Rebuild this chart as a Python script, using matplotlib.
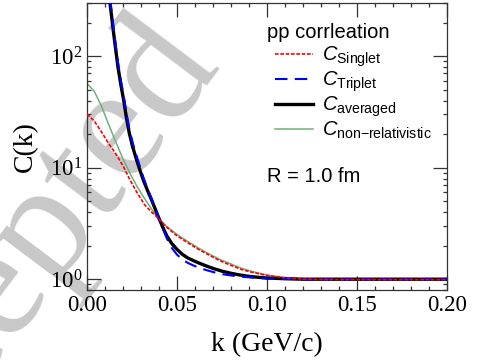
import matplotlib
matplotlib.use("Agg")
import matplotlib.pyplot as plt
from matplotlib.ticker import MultipleLocator, LogLocator, NullFormatter, FormatStrFormatter

# 폰트 설정 (눈금은 Times 계열, 범례는 Arial 계열)
plt.rcParams['font.family'] = 'Liberation Serif'
plt.rcParams['mathtext.fontset'] = 'custom'
plt.rcParams['mathtext.rm'] = 'Liberation Serif'
plt.rcParams['mathtext.it'] = 'Liberation Sans:italic'
plt.rcParams['mathtext.sf'] = 'Liberation Sans'
plt.rcParams['mathtext.bf'] = 'Liberation Serif:bold'

# ---- data (k in GeV/c) ----
k = [0.000, 0.004, 0.008, 0.012, 0.016, 0.020, 0.024, 0.028, 0.032, 0.036,
     0.039, 0.044, 0.050, 0.056, 0.062, 0.068, 0.074, 0.080, 0.086, 0.092,
     0.100, 0.110, 0.120, 0.135, 0.150, 0.175, 0.200]
c_singlet = [30.2, 26.3, 21.0, 16.5, 13.3, 10.4, 7.7, 5.9, 4.65, 3.98,
             3.6, 2.95, 2.45, 2.12, 1.85, 1.64, 1.46, 1.33, 1.22, 1.15,
             1.08, 1.03, 1.00, 0.99, 0.99, 0.99, 0.99]
c_nonrel = [57.0, 48.5, 35.8, 24.5, 17.0, 12.0, 8.8, 6.7, 5.28, 4.23,
            3.62, 3.0, 2.52, 2.18, 1.90, 1.68, 1.50, 1.37, 1.25, 1.17,
            1.09, 1.03, 1.00, 0.985, 0.98, 0.98, 0.98]

k_sp = [0.010, 0.0126, 0.0148, 0.0172, 0.0188, 0.0204, 0.0219, 0.0235, 0.0254,
        0.0276, 0.0295, 0.0313, 0.0336, 0.0359, 0.0378, 0.0396, 0.042, 0.0443,
        0.047, 0.050, 0.053, 0.056, 0.059, 0.062, 0.066, 0.070, 0.075, 0.080,
        0.085, 0.090, 0.095, 0.100, 0.110, 0.120, 0.150, 0.200]
c_averaged = [700, 316, 160, 80, 55.6, 40, 28.2, 20.4, 15.3,
              11.7, 9.4, 7.74, 6.25, 5.13, 4.3, 3.63, 2.95, 2.45,
              2.1, 1.85, 1.67, 1.55, 1.47, 1.40, 1.32, 1.25, 1.18, 1.13,
              1.09, 1.06, 1.04, 1.025, 1.01, 1.0, 1.0, 1.0]
c_triplet = [780, 350, 177, 88, 61, 44, 31, 22.4, 16.7,
             12.7, 10.1, 8.2, 6.5, 5.25, 4.35, 3.62, 2.88, 2.33,
             1.92, 1.66, 1.50, 1.40, 1.33, 1.27, 1.21, 1.16, 1.11, 1.08,
             1.055, 1.04, 1.025, 1.015, 1.005, 1.0, 1.0, 1.0]

W, H = 481, 363
fig = plt.figure(figsize=(W / 100, H / 100), dpi=100)

# 배경 워터마크
fig.text(221 / W, 1 - 65 / H, 'Accepted', fontsize=117, color='#c8c8c8',
         rotation=53, rotation_mode='anchor', ha='right', va='baseline',
         family='Liberation Serif', zorder=-10)

ax = fig.add_axes([87 / W, 1 - 290 / H, 360 / W, 287 / H])
ax.set_facecolor('none')

l_avg, = ax.plot(k_sp, c_averaged, color='black', lw=2.4, zorder=3)
l_tri, = ax.plot(k_sp, c_triplet, color='#0000ff', lw=1.5, ls=(0, (6, 3.5)), zorder=4)
l_nr, = ax.plot(k, c_nonrel, color='#6fb07f', lw=1.1, zorder=2)
l_sin, = ax.plot(k, c_singlet, color='#ff0000', lw=1.2, ls=(0, (2.2, 1.0)), zorder=5)

ax.set_yscale('log')
ax.set_xlim(0, 0.2)
ax.set_ylim(0.8, 300)

ax.xaxis.set_major_locator(MultipleLocator(0.05))
ax.xaxis.set_minor_locator(MultipleLocator(0.01))
ax.xaxis.set_major_formatter(FormatStrFormatter('%.2f'))
ax.yaxis.set_major_locator(LogLocator(base=10, numticks=10))
ax.yaxis.set_minor_locator(LogLocator(base=10, subs=range(2, 10), numticks=20))
ax.yaxis.set_minor_formatter(NullFormatter())

ax.tick_params(which='both', direction='in', top=True, right=True,
               color='#333333', width=0.9)
ax.tick_params(which='major', length=10, pad=3.5, labelsize=16.5)
ax.tick_params(which='minor', length=3)
for s in ax.spines.values():
    s.set_color('#333333')
    s.set_linewidth(0.9)

ax.set_xlabel('k (GeV/c)', fontsize=20)
ax.set_ylabel('C(k)', fontsize=20)
ax.xaxis.set_label_coords(0.5, -0.145)
ax.yaxis.set_label_coords(-0.135, 0.5)

# 범례
fig.text(267 / W, 1 - 38 / H, 'pp corrleation', fontsize=14.5,
         family='Liberation Sans', va='baseline', ha='left')
ax.legend(handles=[l_sin, l_tri, l_avg, l_nr],
          labels=[r'$C_{\mathsf{Singlet}}$', r'$C_{\mathsf{Triplet}}$',
                  r'$C_{\mathsf{averaged}}$', r'$C_{\mathsf{non{-}relativistic}}$'],
          loc='upper left', bbox_to_anchor=(275 / W, 1 - 45 / H),
          bbox_transform=fig.transFigure, frameon=False,
          prop={'family': 'Liberation Sans', 'size': 14.5},
          handlelength=1.9, handletextpad=0.45, labelspacing=0.02,
          borderpad=0, borderaxespad=0)
fig.text(267 / W, 1 - 181.5 / H, 'R = 1.0 fm', fontsize=14.5,
         family='Liberation Sans', va='baseline', ha='left')

fig.savefig('out.png', dpi=100)
